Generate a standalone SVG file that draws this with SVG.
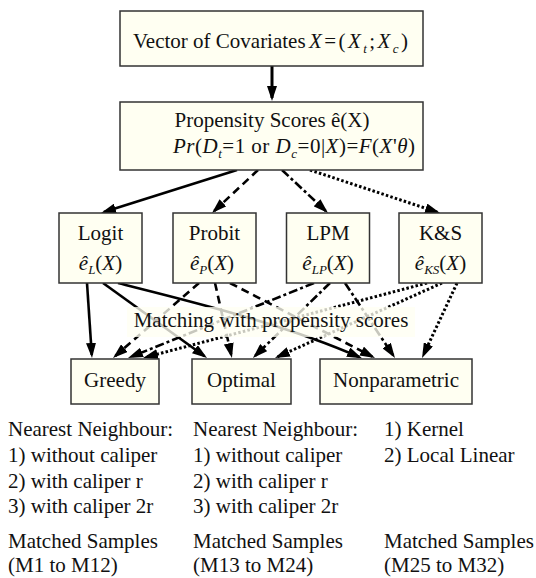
<svg xmlns="http://www.w3.org/2000/svg" width="536" height="578" viewBox="0 0 536 578">
<defs>
<marker id="ah" markerUnits="userSpaceOnUse" markerWidth="15" markerHeight="10" viewBox="0 0 15 10" refX="12" refY="5" orient="auto">
<path d="M0,0 L15,5 L0,10 z" fill="#000"/>
</marker>
<style>
text{font-family:'Liberation Serif','Tinos','DejaVu Serif','Noto Serif',serif;font-size:21px;fill:#111}
.c{text-anchor:middle}
.i{font-style:italic}
.sub{font-size:13px;font-style:italic}
.box{fill:#fffff2;stroke:#333;stroke-width:1.5}
.e{fill:none;stroke:#000;stroke-width:2.6;marker-end:url(#ah)}
.dash{stroke-dasharray:8,5}
.dashdot{stroke-dasharray:9,3,3,3}
.dot{stroke-dasharray:2.5,2.2;stroke-width:3}
</style>
</defs>
<g id="connectors">
<line class="e" x1="272" y1="66" x2="272" y2="98" style="stroke-width:3"/>
<line class="e" x1="237" y1="170" x2="103.9" y2="212.1"/>
<line class="e dash" x1="258" y1="170" x2="214.2" y2="211"/>
<line class="e dashdot" x1="282" y1="170" x2="325.8" y2="211"/>
<line class="e dot" x1="310" y1="170" x2="437.2" y2="212.1"/>
<line class="e" x1="87" y1="283" x2="91.8" y2="355"/>
<line class="e" x1="103" y1="283" x2="204.6" y2="356.2"/>
<path class="e" d="M118,283 C185,300 282,323 359.2,357"/>
<line class="e dash" x1="199" y1="283" x2="115.3" y2="356"/>
<line class="e dash" x1="215" y1="283" x2="231.3" y2="355.1"/>
<line class="e dash" x1="230" y1="283" x2="372.3" y2="356.6"/>
<line class="e dashdot" x1="314" y1="283" x2="130.8" y2="356.9"/>
<line class="e dashdot" x1="330" y1="283" x2="255.1" y2="355.9"/>
<line class="e dashdot" x1="345" y1="283" x2="393.3" y2="355.5"/>
<line class="e dot" x1="427" y1="283" x2="145.9" y2="357.2"/>
<line class="e dot" x1="442" y1="283" x2="277.7" y2="356.8"/>
<line class="e dot" x1="457" y1="283" x2="423.3" y2="355.3"/>
</g>
<g id="matching-label">
<rect x="127" y="307" width="288" height="30" fill="#fffff2" fill-opacity="0.78"/>
<text class="c" x="271" y="327">Matching with propensity scores</text>
</g>
<g id="covariates">
<rect class="box" x="120" y="11" width="303" height="55"/>
<text x="133" y="48">Vector of Covariates</text>
<text x="309" y="48" textLength="99" lengthAdjust="spacing"><tspan class="i">X</tspan>=(<tspan class="i">X</tspan><tspan class="sub" dy="5">t</tspan><tspan dy="-5">;</tspan><tspan class="i">X</tspan><tspan class="sub" dy="5">c</tspan><tspan dy="-5">)</tspan></text>
</g>
<g id="propensity">
<rect class="box" x="120" y="102" width="303" height="68"/>
<text class="c" x="272" y="127">Propensity Scores ê(X)</text>
<text x="173" y="153" textLength="242" lengthAdjust="spacing"><tspan class="i">Pr</tspan>(<tspan class="i">D</tspan><tspan class="sub" dy="5">t</tspan><tspan dy="-5">=1 or </tspan><tspan class="i">D</tspan><tspan class="sub" dy="5">c</tspan><tspan dy="-5">=0|</tspan><tspan class="i">X</tspan>)=<tspan class="i">F</tspan>(<tspan class="i">X</tspan>'<tspan class="i">θ</tspan>)</text>
</g>
<g id="logit">
<rect class="box" x="59" y="213" width="83" height="70"/>
<text class="c" x="100.5" y="240">Logit</text>
<text class="c" x="100.5" y="270"><tspan class="i">ê</tspan><tspan class="sub" dy="4">L</tspan><tspan dy="-4">(</tspan><tspan class="i">X</tspan>)</text>
</g>
<g id="probit">
<rect class="box" x="173" y="213" width="83" height="70"/>
<text class="c" x="214.5" y="240">Probit</text>
<text class="c" x="212" y="270"><tspan class="i">ê</tspan><tspan class="sub" dy="4">P</tspan><tspan dy="-4">(</tspan><tspan class="i">X</tspan>)</text>
</g>
<g id="lpm">
<rect class="box" x="286.5" y="213" width="83" height="70"/>
<text class="c" x="328" y="240">LPM</text>
<text class="c" x="328" y="270"><tspan class="i">ê</tspan><tspan class="sub" dy="4">LP</tspan><tspan dy="-4">(</tspan><tspan class="i">X</tspan>)</text>
</g>
<g id="ks">
<rect class="box" x="399" y="213" width="83" height="70"/>
<text class="c" x="440.5" y="240">K&amp;S</text>
<text class="c" x="440.5" y="270"><tspan class="i">ê</tspan><tspan class="sub" dy="4">KS</tspan><tspan dy="-4">(</tspan><tspan class="i">X</tspan>)</text>
</g>
<g id="greedy">
<rect class="box" x="71" y="359" width="88" height="45"/>
<text class="c" x="115" y="387">Greedy</text>
</g>
<g id="optimal">
<rect class="box" x="192" y="359" width="99" height="45"/>
<text class="c" x="241.5" y="387">Optimal</text>
</g>
<g id="nonparametric">
<rect class="box" x="320" y="359" width="152" height="45"/>
<text class="c" x="396" y="387">Nonparametric</text>
</g>
<g id="notes">
<text x="8" y="436">Nearest Neighbour:</text>
<text x="8" y="462">1) without caliper</text>
<text x="8" y="488">2) with caliper r</text>
<text x="8" y="513">3) with caliper 2r</text>
<text x="8" y="548">Matched Samples</text>
<text x="8" y="572">(M1 to M12)</text>
<text x="193" y="436">Nearest Neighbour:</text>
<text x="193" y="462">1) without caliper</text>
<text x="193" y="488">2) with caliper r</text>
<text x="193" y="513">3) with caliper 2r</text>
<text x="193" y="548">Matched Samples</text>
<text x="193" y="572">(M13 to M24)</text>
<text x="384" y="436">1) Kernel</text>
<text x="384" y="462">2) Local Linear</text>
<text x="384" y="548">Matched Samples</text>
<text x="384" y="572">(M25 to M32)</text>
</g>
</svg>
